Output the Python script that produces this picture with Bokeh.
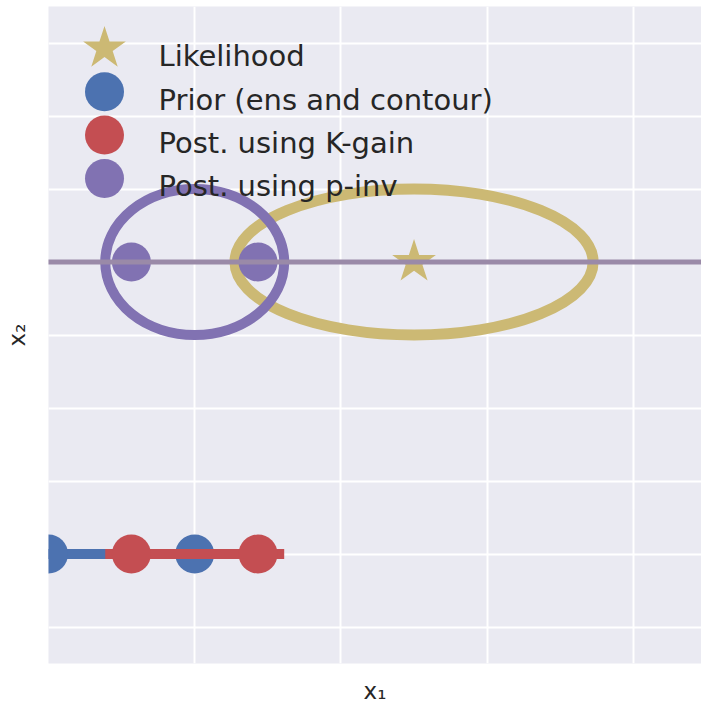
from bokeh.plotting import figure
from bokeh.models import FixedTicker, Range1d
from bokeh.core.properties import value
from bokeh.embed import file_html
from bokeh.resources import INLINE

# Palette (seaborn "deep")
BLUE = "#4C72B0"
RED = "#C44E52"
PURPLE = "#8172B2"
GOLD = "#CCB974"
PINV_LINE = "#9A8AA8"
BG = "#EAEAF2"
TEXT = "#262626"
FONT = "DejaVu Sans"

# Likelihood: observation and its 1-sigma contour half-widths
lik_x = [1.5]
lik_y = [2.0]
lik_sx = [1.2247]
lik_sy = [0.5]

# Prior ensemble and its degenerate (rank-1) contour along x1
prior_x = [-1.0, 0.0]
prior_y = [0.0, 0.0]
prior_contour_x = [-1.207, 0.207]
prior_contour_y = [0.0, 0.0]

# Posterior using the Kalman gain
kgain_x = [-0.433, 0.433]
kgain_y = [0.0, 0.0]
kgain_contour_x = [-0.612, 0.612]
kgain_contour_y = [0.0, 0.0]

# Posterior using the pseudo-inverse
pinv_x = [-0.433, 0.433]
pinv_y = [2.0, 2.0]
pinv_cx = [0.0]
pinv_cy = [2.0]
pinv_sx = [0.612]
pinv_sy = [0.5]
pinv_line_x = [-2.0, 5.0]
pinv_line_y = [2.0, 2.0]

# Grid positions
x_ticks = [0, 1, 2, 3]
y_ticks = [-0.5, 0.0, 0.5, 1.0, 1.5, 2.0, 2.5, 3.0, 3.5]

# Legend entries
legend_labels = ["Likelihood", "Prior (ens and contour)", "Post. using K-gain", "Post. using p-inv"]
legend_colors = [GOLD, BLUE, RED, PURPLE]
legend_markers = ["star", "circle", "circle", "circle"]
legend_sizes = [45, 39, 39, 39]

FRAME_W, FRAME_H = 653, 658

p = figure(
    width=701, height=706,
    x_range=(-1.0, 3.466), y_range=(-0.75, 3.75),
    output_backend="svg", toolbar_location=None,
    min_border_left=48, min_border_right=0,
    min_border_top=6, min_border_bottom=42,
    background_fill_color=BG, border_fill_color="white",
    outline_line_color=None,
)

# Axes carry only their titles: no spine, ticks or tick labels
for ax in (p.xaxis, p.yaxis):
    ax.ticker = FixedTicker(ticks=[])
    ax.axis_line_color = None
    ax.major_tick_line_color = None
    ax.minor_tick_line_color = None
    ax.major_tick_out = 0
    ax.major_tick_in = 0
    ax.minor_tick_out = 0
    ax.minor_tick_in = 0
    ax.major_label_standoff = 0
    ax.axis_label_text_font = FONT
    ax.axis_label_text_font_size = "23px"
    ax.axis_label_text_font_style = "normal"
    ax.axis_label_text_color = TEXT
p.xaxis.axis_label = "x₁"
p.yaxis.axis_label = "x₂"
p.xaxis.axis_label_standoff = 14
p.yaxis.axis_label_standoff = 19

p.xgrid.ticker = FixedTicker(ticks=x_ticks)
p.ygrid.ticker = FixedTicker(ticks=y_ticks)
for g in (p.xgrid, p.ygrid):
    g.grid_line_color = "white"
    g.grid_line_width = 2

# Pixel ranges over the frame (origin top-left) for placing the legend
p.extra_x_ranges["px"] = Range1d(0, FRAME_W)
p.extra_y_ranges["px"] = Range1d(FRAME_H, 0)

# Likelihood contour and point
p.ellipse(x=lik_x, y=lik_y, width=[2 * s for s in lik_sx], height=[2 * s for s in lik_sy],
          fill_color=None, line_color=GOLD, line_width=11)
p.scatter(lik_x, lik_y, marker="star", size=46, fill_color=GOLD, line_color=None)

# Prior
p.line(prior_contour_x, prior_contour_y, line_color=BLUE, line_width=10)
p.scatter(prior_x, prior_y, marker="circle", size=39, fill_color=BLUE, line_color=None)

# Posterior (Kalman gain)
p.line(kgain_contour_x, kgain_contour_y, line_color=RED, line_width=10)
p.scatter(kgain_x, kgain_y, marker="circle", size=39, fill_color=RED, line_color=None)

# Posterior (pseudo-inverse)
p.ellipse(x=pinv_cx, y=pinv_cy, width=[2 * s for s in pinv_sx], height=[2 * s for s in pinv_sy],
          fill_color=None, line_color=PURPLE, line_width=10)
p.scatter(pinv_x, pinv_y, marker="circle", size=39, fill_color=PURPLE, line_color=None)
p.line(pinv_line_x, pinv_line_y, line_color=PINV_LINE, line_width=5)

# Legend: markers and labels laid out in frame pixels
row_step = 43.4
marker_cx = 56
marker_cy = [42 + i * row_step for i in range(len(legend_labels))]
text_x = [110] * len(legend_labels)
text_y = [50 + i * row_step for i in range(len(legend_labels))]
p.scatter([marker_cx] * len(legend_labels), marker_cy, marker=legend_markers, size=legend_sizes,
          fill_color=legend_colors, line_color=None,
          x_range_name="px", y_range_name="px")
p.text(text_x, text_y, text=legend_labels, text_font=value(FONT), text_font_size="29px",
       text_color=TEXT, text_align="left", text_baseline="alphabetic",
       x_range_name="px", y_range_name="px")

open("out.html", "w").write(file_html(p, INLINE))
